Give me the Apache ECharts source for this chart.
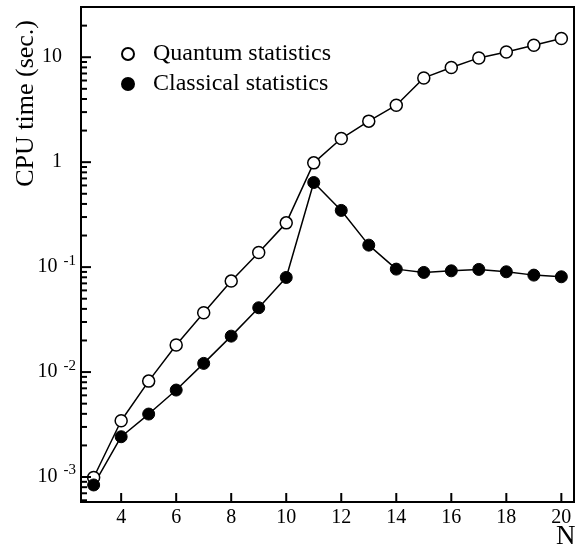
<!DOCTYPE html>
<html>
<head>
<meta charset="utf-8">
<script src="https://cdn.jsdelivr.net/npm/echarts@6/dist/echarts.min.js"></script>
<style>html,body{margin:0;padding:0;background:#fff;}#c{width:587px;height:550px;}</style>
</head>
<body>
<div id="c"></div>
<script>
const nValues = [3,4,5,6,7,8,9,10,11,12,13,14,15,16,17,18,19,20];
const quantum = [0.00099,0.00344,0.0082,0.0181,0.0367,0.0736,0.138,0.264,0.985,1.68,2.46,3.49,6.35,7.98,9.85,11.2,13.0,15.1];
const classical = [0.00084,0.00242,0.00398,0.00674,0.0121,0.0220,0.0410,0.0797,0.640,0.347,0.162,0.0957,0.0890,0.0922,0.0951,0.0903,0.0839,0.0809];
const xTickValues = [4,6,8,10,12,14,16,18,20];
const yTickValues = [0.001,0.01,0.1,1,10];
const yTickLabels = ['10{sup|-3}','10{sup|-2}','10{sup|-1}','1{sp|}','10{sp|}'];
const yMinorTicks = [0.0006,0.0007,0.0008,0.0009,0.002,0.003,0.004,0.005,0.006,0.007,0.008,0.009,
  0.02,0.03,0.04,0.05,0.06,0.07,0.08,0.09,0.2,0.3,0.4,0.5,0.6,0.7,0.8,0.9,2,3,4,5,6,7,8,9,20];

const font = 'Liberation Serif';
const chart = echarts.init(document.getElementById('c'));
const xMin = 2.54, xMax = 20.46;
const yMin = 5.78e-4, yMax = 30.1;

// tick marks drawn through the axes' own scales (api.coord)
function tickSeries(data, dir, len) {
  return {
    type: 'custom', coordinateSystem: 'cartesian2d', silent: true, clip: false, z: 5,
    data: data,
    renderItem: function (params, api) {
      const p = api.coord([api.value(0), api.value(1)]);
      const shape = dir === 'x'
        ? {x1: p[0], y1: p[1], x2: p[0], y2: p[1] - len}
        : {x1: p[0], y1: p[1], x2: p[0] + len, y2: p[1]};
      return {type: 'line', shape: shape, style: {stroke: '#000', lineWidth: 2}};
    }
  };
}

chart.setOption({
  animation: false,
  grid: {left: 81, right: 13, top: 7, bottom: 48, show: true, borderColor: '#000', borderWidth: 2},
  legend: {
    left: 116, top: 37, orient: 'vertical', itemGap: 6,
    itemWidth: 12, itemHeight: 12, icon: 'circle',
    textStyle: {fontFamily: font, fontSize: 24, color: '#000', padding: [0,0,0,14]},
    data: ['Quantum statistics','Classical statistics']
  },
  xAxis: {
    type: 'value', min: xMin, max: xMax,
    axisLine: {show: true, lineStyle: {color: '#000', width: 2}},
    axisTick: {show: false},
    axisLabel: {fontFamily: font, fontSize: 20, color: '#000', margin: 6, customValues: xTickValues.slice()},
    splitLine: {show: false}
  },
  yAxis: {
    type: 'log', min: yMin, max: yMax,
    axisLine: {show: true, lineStyle: {color: '#000', width: 2}},
    axisTick: {show: false},
    axisLabel: {
      fontFamily: font, fontSize: 20, color: '#000', margin: 5, customValues: yTickValues.slice(),
      formatter: function (v) {
        for (let i = 0; i < yTickValues.length; i++) {
          if (Math.abs(Math.log10(v) - Math.log10(yTickValues[i])) < 1e-6) return yTickLabels[i];
        }
        return '';
      },
      rich: {
        sup: {fontFamily: font, fontSize: 15, color: '#000', padding: [0,0,13,6]},
        sp: {width: 14}
      }
    },
    splitLine: {show: false}
  },
  series: [{
    name: 'Quantum statistics', type: 'line',
    data: nValues.map((n, i) => [n, quantum[i]]),
    symbol: 'circle', symbolSize: 12,
    lineStyle: {color: '#000', width: 1.5},
    itemStyle: {color: '#fff', borderColor: '#000', borderWidth: 1.5}
  }, {
    name: 'Classical statistics', type: 'line',
    data: nValues.map((n, i) => [n, classical[i]]),
    symbol: 'circle', symbolSize: 12,
    lineStyle: {color: '#000', width: 1.5},
    itemStyle: {color: '#000', borderColor: '#000', borderWidth: 1}
  },
  tickSeries(xTickValues.map(v => [v, yMin]), 'x', 9),
  tickSeries(yTickValues.map(v => [xMin, v]), 'y', 10),
  tickSeries(yMinorTicks.map(v => [xMin, v]), 'y', 6)
  ],
  graphic: [{
    type: 'text', left: 13, top: 20,
    style: {text: 'CPU time (sec.)', font: '26px "Liberation Serif"', fill: '#000'},
    rotation: Math.PI / 2, originX: 0, originY: 0
  }, {
    type: 'text', left: 556, top: 523,
    style: {text: 'N', font: '27px "Liberation Serif"', fill: '#000'}
  }]
});
</script>
</body>
</html>
